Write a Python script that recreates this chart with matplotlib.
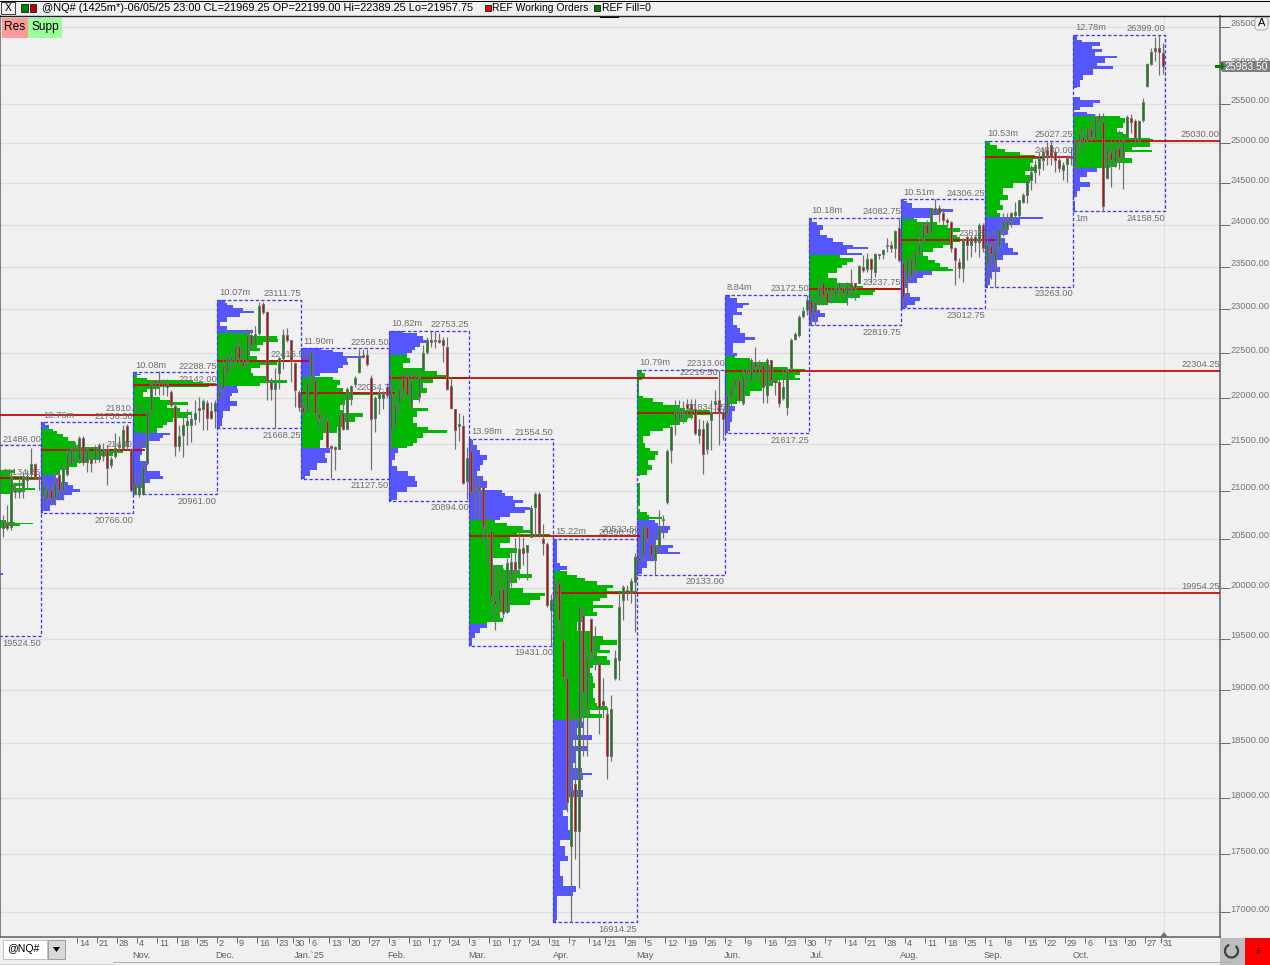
import numpy as np
import matplotlib
matplotlib.use('Agg')
import matplotlib.pyplot as plt
from matplotlib.patches import Rectangle, FancyBboxPatch, Polygon, Arc
from matplotlib.ticker import NullLocator
from matplotlib.transforms import ScaledTranslation

plt.rcParams['font.family'] = ['Liberation Sans', 'DejaVu Sans']

# daily bars, one line per calendar month, Sep 2024 (cut off at the left) to Oct 2025
opens = [
    20615, 20655, 20625, 21010, 20990, 21020, 21110, 21180, 21285, 21140,
    20940, 20920, 21010, 20920, 21165, 21010, 21180, 21290, 21450, 21340, 21560, 21300, 21340, 21340, 21340, 21370, 21450, 21270, 21370, 21470, 21460, 21690, 21440,
    20965, 20965, 20965, 21295, 21865, 22195, 22165, 22165, 22155, 22065, 21915, 21475, 21595, 21705, 21705, 21765, 21890, 21875, 21945, 21855, 21855,
    22005, 22105, 22275, 22415, 22405, 22585, 22405, 22405, 22705, 22615, 22725, 23060, 22970, 22175, 22105, 22275, 22445, 22705, 22645, 22395, 22065,
    21905, 21865, 22245, 22205, 21825, 21775, 21745, 21475, 21470, 21445, 21835, 21665, 22005, 22155, 22285, 22455, 22475, 22225, 21785, 22005, 21995, 22125,
    21655, 21705, 21955, 22255, 22240, 21905, 22260, 22015, 22315, 22515, 22655, 22635, 22655, 22645, 22575, 22130, 21875, 21690, 21695, 21105,
    21425, 21025, 21005, 21035, 20715, 20585, 19880, 19865, 19995, 19765, 20130, 20265, 20200, 20405, 20365, 20520, 20835, 20970, 20500, 20450, 19780,
    19900, 20050, 19485, 19120, 17570, 18125, 17705, 19735, 18845, 19695, 19295, 19255, 18895, 18780, 18380, 19120, 19295, 19880, 19980, 19950, 20060,
    20300, 20320, 20625, 20450, 20290, 20410, 20690, 20885, 21435, 21725, 21755, 21830, 21930, 21930, 21875, 21595, 21660, 21450, 21755, 21930, 21975, 21845,
    21835, 22015, 22145, 22200, 21945, 22310, 22200, 22400, 22370, 22370, 22035, 22425, 22200, 22180, 22000, 21905, 22335, 22660, 22705, 22920, 22990,
    23110, 22972, 23145, 23307, 23203, 23180, 23168, 23249, 23249, 23168, 23249, 23307, 23307, 23493, 23470, 23588, 23435, 23646, 23647, 23752, 23752, 23717, 23955,
    23546, 23347, 23382, 23510, 23652, 23793, 24008, 23888, 24152, 24200, 24140, 24056, 24032, 23722, 23557, 23487, 23853, 23757, 23853, 23793, 23996,
    23527, 23739, 23562, 23727, 23941, 23941, 24037, 24121, 24121, 24278, 24362, 24545, 24643, 24693, 24791, 24915, 24977, 24890, 24791, 24668, 24742, 24841,
    24759, 25019, 25081, 25044, 25182, 25069, 25345, 25270, 24563, 24895, 24771, 24945, 24821, 25081, 25320, 25282, 25019, 25295, 25725, 26009, 26178, 26217, 26152,
]
closes = [
    20697, 20615, 21145, 20990, 21010, 21145, 21155, 21285, 21145, 21120,
    21060, 21010, 20920, 21090, 21010, 21240, 21400, 21450, 21470, 21560, 21300, 21450, 21290, 21470, 21490, 21450, 21240, 21340, 21460, 21490, 21650, 21480, 21010,
    21075, 21075, 21265, 21855, 22155, 22165, 22195, 22135, 22125, 21925, 21475, 21585, 21705, 21745, 21765, 21835, 21870, 21965, 21785, 21785, 21945,
    22075, 22355, 22455, 22455, 22585, 22435, 22355, 22705, 22595, 22715, 23045, 22965, 22185, 22095, 22165, 22445, 22705, 22645, 22415, 22085, 21905,
    21845, 22155, 22515, 21835, 21785, 21765, 21465, 21455, 21445, 21815, 21665, 22105, 22135, 22225, 22445, 22485, 22375, 21775, 22005, 22065, 22060, 22035,
    22055, 21925, 22105, 22105, 22035, 22185, 22235, 22235, 22505, 22645, 22625, 22655, 22625, 22595, 22105, 21885, 21655, 21715, 21085, 21345,
    20985, 21015, 21045, 20625, 20705, 19925, 19845, 19995, 19750, 20250, 20265, 20180, 20400, 20350, 20435, 20815, 20970, 20555, 20460, 19830, 19880,
    20050, 19685, 19130, 17965, 18060, 17705, 19810, 18980, 19325, 19370, 19340, 18835, 18865, 18380, 18825, 19315, 19810, 20010, 19960, 20070, 20315,
    20280, 20635, 20510, 20330, 20440, 20615, 20700, 21420, 21680, 21855, 21855, 21855, 21885, 21865, 21615, 21660, 21390, 21725, 21845, 21970, 21845, 21775,
    22035, 22125, 22200, 21980, 22245, 22280, 22425, 22345, 22345, 22125, 22425, 22200, 22180, 21945, 22125, 22310, 22650, 22715, 22910, 22980, 23105,
    22960, 23087, 23261, 23168, 23087, 23170, 23249, 23307, 23191, 23284, 23307, 23249, 23505, 23458, 23588, 23470, 23647, 23635, 23694, 23740, 23717, 23919, 23576,
    23139, 23605, 23605, 23687, 23769, 24008, 23900, 24200, 24200, 24140, 24056, 24032, 23722, 23581, 23487, 23817, 23757, 23840, 23793, 23996, 23722,
    23762, 23645, 23704, 23941, 24037, 24037, 24145, 24157, 24302, 24362, 24545, 24643, 24730, 24816, 24890, 24853, 24828, 24791, 24693, 24730, 24816, 24816,
    25044, 25131, 25019, 25195, 25081, 25333, 25308, 24222, 24945, 24784, 24945, 24821, 25044, 25333, 25270, 25069, 25282, 25522, 26010, 26165, 26217, 26165, 25983.5,
]
highs = [
    20750, 20855, 21200, 21060, 21155, 21190, 21220, 21460, 21290, 21180,
    21180, 21080, 21080, 21230, 21240, 21290, 21450, 21490, 21520, 21590, 21580, 21470, 21390, 21490, 21510, 21510, 21490, 21370, 21620, 21590, 21700, 21710, 21460,
    21185, 21175, 21295, 21875, 22205, 22205, 22295, 22215, 22215, 22085, 21935, 21705, 21835, 21875, 21855, 21975, 22015, 21985, 21980, 21960, 21980,
    22145, 22475, 22495, 22555, 22625, 22705, 22555, 22775, 22775, 22805, 23085, 23085, 22985, 22225, 22335, 22455, 22775, 22785, 22655, 22405, 22085,
    21995, 22235, 22535, 22235, 21900, 21800, 21855, 21485, 21475, 21835, 22015, 22125, 22145, 22245, 22545, 22545, 22545, 22255, 22025, 22105, 22075, 22165,
    22315, 22105, 22215, 22315, 22315, 22315, 22315, 22315, 22595, 22680, 22753, 22753, 22735, 22680, 22680, 22235, 21880, 21835, 21815, 21465,
    21554, 21145, 21155, 21050, 20715, 20590, 20235, 20235, 20200, 20300, 20400, 20505, 20605, 20520, 20435, 20850, 20985, 20985, 20655, 20465, 19945,
    20100, 20060, 19665, 19170, 18815, 18815, 19830, 19830, 19390, 19705, 19625, 19295, 19120, 18845, 18955, 19390, 19980, 20030, 20030, 20100, 20355,
    20520, 20655, 20635, 20490, 20595, 20800, 20750, 21445, 21705, 21975, 21975, 21970, 21985, 21985, 21985, 21775, 21755, 21755, 21975, 22085, 22313, 21885,
    22055, 22200, 22255, 22255, 22335, 22345, 22445, 22570, 22425, 22390, 22445, 22425, 22235, 22225, 22335, 22345, 22670, 22740, 22935, 23025, 23172,
    23168, 23168, 23365, 23307, 23261, 23261, 23342, 23319, 23307, 23319, 23470, 23307, 23517, 23635, 23658, 23600, 23658, 23647, 23706, 23835, 23800, 23931, 24082,
    23605, 23605, 23616, 23699, 24020, 24020, 24056, 24200, 24306, 24235, 24200, 24080, 24044, 23734, 23605, 23840, 23876, 23876, 23876, 24020, 24020,
    23917, 23786, 23845, 23965, 24145, 24145, 24157, 24278, 24302, 24386, 24570, 24730, 24791, 24890, 24940, 25014, 25027, 24915, 24853, 24766, 24853, 24940,
    25069, 25195, 25207, 25207, 25320, 25358, 25383, 25383, 24982, 25044, 25069, 25169, 25081, 25358, 25371, 25308, 25295, 25572, 26022, 26217, 26362, 26399, 26283,
]
lows = [
    20520, 20595, 20595, 20925, 20925, 20925, 21030, 21145, 21135, 21010,
    20820, 20840, 20850, 20850, 20900, 20900, 21160, 21290, 21290, 21290, 21270, 21200, 21200, 21290, 21310, 21320, 21060, 21240, 21350, 21420, 21430, 21430, 20985,
    20961, 20935, 20955, 21275, 21825, 22035, 22035, 22035, 22025, 21905, 21365, 21425, 21355, 21485, 21515, 21705, 21735, 21645, 21645, 21765, 21675,
    21965, 22075, 22265, 22335, 22335, 22395, 22315, 22370, 22565, 22615, 22705, 22945, 21980, 21980, 21668.25, 22105, 22325, 22625, 22175, 21905, 21855,
    21815, 21855, 22135, 21755, 21635, 21655, 21445, 21130, 21225, 21445, 21655, 21665, 21925, 22125, 22275, 22445, 22355, 21225, 21625, 21825, 21875, 21995,
    21395, 21705, 21845, 21985, 22015, 21870, 22215, 21960, 22305, 22495, 22565, 22555, 22615, 22405, 22085, 21875, 21440, 21535, 21075, 20910,
    20935, 20695, 20715, 20450, 20225, 19715, 19585, 19715, 19700, 19750, 20015, 20080, 20095, 20230, 20080, 20520, 20520, 20520, 20335, 19815, 19431,
    19810, 19555, 19085, 17875, 16914.25, 17460, 17205, 18380, 18380, 19295, 19195, 18585, 18735, 18170, 18335, 19095, 19095, 19685, 19880, 19850, 19565,
    20240, 20270, 20460, 20270, 20135, 20360, 20510, 20860, 21295, 21595, 21755, 21725, 21775, 21775, 21595, 21510, 21180, 21390, 21435, 21830, 21485, 21540,
    21617, 21905, 22035, 21960, 21925, 22110, 22180, 22200, 22170, 21945, 21945, 22180, 22035, 21905, 21980, 21815, 22310, 22650, 22680, 22900, 22935,
    22858, 22820, 23052, 23052, 23052, 23075, 23110, 23134, 23110, 23052, 23134, 23110, 23307, 23435, 23435, 23319, 23377, 23588, 23588, 23670, 23670, 23600, 23552,
    23012.75, 23092, 23347, 23382, 23652, 23769, 23888, 23853, 24140, 24032, 23996, 23972, 23675, 23289, 23370, 23324, 23581, 23616, 23675, 23616, 23675,
    23294, 23352, 23263, 23668, 23858, 23881, 23965, 24097, 24097, 24266, 24266, 24423, 24508, 24606, 24668, 24730, 24730, 24643, 24643, 24545, 24520, 24730,
    24648, 24895, 24895, 25019, 25007, 25044, 25169, 24158.5, 24550, 24453, 24698, 24673, 24428, 25056, 25131, 24957, 25007, 25270, 25712, 25995, 26048, 25866, 25879,
]

# monthly volume profiles: bar index of the first session, high, low, POC
first_bar = [-21, 10, 33, 54, 75, 97, 117, 138, 159, 181, 202, 225, 246, 268, 291]
month_high = [21486.00, 21736.50, 22288.75, 23111.75, 22558.50, 22753.25, 21554.50, 20498.50, 22313.00, 23172.50, 24082.75, 24306.25, 25027.25, 26399.00]
month_low = [19524.50, 20766.00, 20961.00, 21668.25, 21127.50, 20894.00, 19431.00, 16914.25, 20133.00, 21617.25, 22819.75, 23012.75, 23263.00, 24158.50]
month_poc = [21134.25, 21430.50, 22142.00, 22415.50, 22054.75, 22219.50, 20533.50, 19954.25, 21834.75, 22304.25, 23237.75, 23815.75, 24830.00, 25030.00]
poc_end = [9.5, 35.5, 53.5, 76.5, 98, 178.75, 159.25, 304.25, 180.75, 304.25, 224.5, 248.5, 267.5, 304.25]
month_volume = ['', '10.76m', '10.08m', '10.07m', '11.90m', '10.82m', '13.98m', '15.22m', '10.79m', '8.84m', '10.18m', '10.51m', '10.53m', '12.78m']
# value area limits, green inside, blue outside
va_high = [21300, 21667, 22245, 22719, 22232, 22480, 20697, 20167, 22313, 22470, 23637, 24063, 25027, 25347]
va_low = [20400, 21165, 21630, 22135, 21460, 21460, 19650, 18710, 20700, 21945, 23060, 23460, 24100, 24690]

prof_levels = [
    [21486, 21222, 21190, 21158, 21137, 21116, 21084, 21053, 21031, 21010, 20990, 20968, 20697, 20676, 20666, 20656, 20635, 20615, 20154, 20134, 19524.5],
    [21736.5, 21703, 21659, 21637, 21605, 21572, 21530, 21486, 21465, 21443, 21422, 21401, 21369, 21326, 21294, 21251, 21220, 21167, 21135, 21093, 21062, 21020, 20988, 20957, 20905, 20853, 20791, 20766],
    [22288.75, 22270, 22255, 22220, 22199, 22180, 22163, 22143, 22118, 22098, 22070, 22015, 21978, 21960, 21923, 21887, 21850, 21813, 21778, 21741, 21706, 21669, 21615, 21597, 21562, 21526, 21454, 21383, 21312, 21205, 21153, 21128, 21083, 21030, 20967, 20961],
    [23111.75, 23078, 23050, 23012, 22982, 22955, 22917, 22860, 22804, 22765, 22728, 22697, 22662, 22632, 22595, 22557, 22520, 22464, 22426, 22401, 22371, 22334, 22278, 22241, 22204, 22168, 22130, 22104, 22057, 22020, 21965, 21910, 21855, 21783, 21692, 21668.25],
    [22558.5, 22536, 22514, 22470, 22445, 22405, 22370, 22332, 22276, 22246, 22232, 22203, 22148, 22112, 22070, 22059, 22037, 21980, 21925, 21870, 21835, 21796, 21742, 21688, 21616, 21544, 21470, 21454, 21400, 21348, 21295, 21222, 21152, 21127.5],
    [22753.25, 22728, 22690, 22653, 22615, 22575, 22536, 22500, 22480, 22444, 22390, 22332, 22295, 22258, 22236, 22214, 22166, 22110, 22055, 21980, 21925, 21889, 21852, 21796, 21724, 21688, 21652, 21616, 21562, 21508, 21472, 21454, 21400, 21330, 21258, 21205, 21152, 21100, 21045, 20992, 20904, 20894],
    [21554.5, 21544, 21490, 21436, 21383, 21330, 21276, 21205, 21152, 21098, 21028, 21003, 20975, 20940, 20904, 20870, 20835, 20800, 20765, 20725, 20697, 20663, 20628, 20594, 20560, 20546, 20525, 20456, 20405, 20355, 20303, 20235, 20184, 20144, 20100, 20050, 20000, 19950, 19916, 19882, 19832, 19766, 19700, 19667, 19643, 19602, 19553, 19505, 19431],
    [20498.5, 20422, 20252, 20218, 20184, 20167, 20134, 20100, 20067, 20034, 20000, 19974, 19945, 19900, 19866, 19832, 19800, 19766, 19717, 19667, 19618, 19570, 19527, 19482, 19440, 19391, 19359, 19327, 19288, 19246, 19214, 19165, 19133, 19070, 19024, 18977, 18925, 18884, 18847, 18816, 18778, 18738, 18715, 18703, 18644, 18582, 18535, 18479, 18426, 18318, 18272, 18226, 18211, 18165, 18075, 18014, 17894, 17835, 17716, 17672, 17628, 17570, 17481, 17437, 17307, 17220, 17172, 17135, 16934, 16914.25],
    [22313, 22276, 22222, 22203, 22037, 22026, 22000, 21960, 21925, 21890, 21870, 21840, 21815, 21780, 21742, 21706, 21670, 21634, 21580, 21508, 21454, 21418, 21383, 21330, 21276, 21222, 21170, 21160, 21080, 20842, 20807, 20782, 20748, 20725, 20710, 20697, 20663, 20628, 20594, 20560, 20525, 20490, 20440, 20405, 20370, 20347, 20320, 20270, 20200, 20144, 20133],
    [23172.5, 23165, 23128, 23078, 23052, 23013, 22975, 22937, 22823, 22785, 22728, 22683, 22653, 22615, 22500, 22470, 22445, 22405, 22370, 22340, 22325, 22302, 22258, 22220, 22203, 22166, 22130, 22074, 22018, 21962, 21937, 21907, 21852, 21742, 21634, 21617.25],
    [24082.75, 24035, 23995, 23935, 23875, 23835, 23795, 23755, 23735, 23707, 23656, 23637, 23598, 23558, 23519, 23480, 23421, 23362, 23303, 23272, 23250, 23226, 23206, 23168, 23128, 23078, 23052, 22994, 22963, 22917, 22860, 22819.75],
    [24306.25, 24290, 24258, 24195, 24183, 24155, 24115, 24083, 24063, 24035, 23995, 23955, 23915, 23875, 23847, 23795, 23755, 23715, 23675, 23625, 23578, 23539, 23499, 23468, 23452, 23401, 23362, 23303, 23245, 23187, 23140, 23101, 23052, 23012.75],
    [25027.25, 24978, 24928, 24890, 24853, 24828, 24803, 24752, 24702, 24652, 24602, 24540, 24500, 24440, 24358, 24298, 24236, 24175, 24135, 24095, 24063, 23995, 23875, 23835, 23775, 23715, 23675, 23637, 23578, 23492, 23441, 23362, 23284, 23263],
    [26399, 26390, 26327, 26297, 26252, 26207, 26164, 26118, 26092, 26020, 25990, 25952, 25865, 25800, 25715, 25702, 25590, 25547, 25505, 25462, 25420, 25398, 25365, 25347, 25315, 25250, 25186, 25145, 25112, 25070, 25052, 25030, 24957, 24915, 24895, 24810, 24748, 24707, 24686, 24645, 24582, 24520, 24460, 24406, 24338, 24285, 24158.5],
]
# profile width at each level, one more level than sizes
prof_sizes = [
    [60, 98, 93, 108, 123, 93, 108, 98, 118, 108, 95, 60, 89, 98, 116, 103, 89, 70, 86, 70],
    [4, 8, 12, 16, 22, 27, 34, 39, 60, 89, 82, 72, 59, 46, 36, 26, 19, 14, 17, 27, 32, 39, 31, 22, 14, 9, 2],
    [4, 8, 4, 14, 60, 70, 83, 76, 27, 14, 10, 27, 40, 55, 34, 47, 59, 54, 40, 34, 30, 24, 37, 30, 27, 14, 9, 7, 14, 27, 30, 17, 9, 2, 2],
    [8, 10, 16, 26, 37, 23, 10, 3, 10, 36, 33, 60, 61, 46, 40, 43, 33, 40, 76, 60, 43, 34, 36, 50, 70, 43, 20, 21, 15, 13, 20, 13, 6, 5, 3],
    [20, 32, 42, 62, 46, 47, 42, 37, 19, 14, 32, 39, 36, 42, 60, 79, 52, 44, 39, 42, 62, 54, 42, 36, 22, 19, 19, 29, 24, 26, 16, 9, 4],
    [14, 28, 34, 38, 31, 26, 23, 18, 18, 21, 14, 34, 48, 58, 78, 44, 34, 38, 31, 24, 21, 39, 28, 24, 28, 39, 58, 34, 28, 24, 18, 9, 6, 3, 8, 19, 26, 28, 18, 8, 3],
    [3, 4, 8, 11, 18, 14, 11, 8, 14, 18, 11, 33, 36, 44, 54, 46, 61, 56, 41, 31, 26, 38, 54, 61, 48, 81, 41, 31, 48, 41, 24, 34, 51, 63, 48, 41, 54, 76, 71, 61, 41, 31, 34, 18, 18, 11, 6, 3],
    [4, 4, 7, 14, 7, 14, 24, 32, 44, 60, 54, 84, 54, 47, 40, 60, 40, 44, 30, 24, 24, 40, 50, 64, 47, 57, 44, 54, 57, 40, 37, 39, 40, 42, 40, 40, 42, 44, 54, 37, 49, 29, 29, 30, 24, 39, 20, 35, 22, 20, 29, 39, 30, 20, 30, 14, 10, 15, 17, 20, 7, 12, 15, 7, 10, 23, 20, 4, 3],
    [5, 8, 5, 2, 2, 6, 16, 26, 43, 48, 73, 73, 56, 50, 43, 33, 26, 13, 6, 8, 13, 21, 18, 11, 15, 10, 3, 0, 3, 0, 3, 10, 12, 25, 12, 18, 21, 33, 31, 24, 24, 19, 36, 31, 43, 20, 20, 10, 5, 1],
    [3, 5, 12, 24, 18, 12, 17, 8, 12, 15, 20, 30, 20, 8, 12, 10, 25, 42, 48, 62, 80, 75, 70, 75, 53, 48, 37, 25, 18, 12, 5, 10, 7, 5, 2],
    [3, 8, 14, 11, 18, 24, 34, 44, 59, 38, 53, 31, 44, 38, 33, 28, 19, 28, 41, 54, 91, 66, 64, 51, 38, 18, 6, 11, 16, 9, 3],
    [3, 6, 11, 30, 52, 39, 32, 13, 16, 36, 46, 59, 49, 56, 59, 52, 42, 32, 22, 27, 34, 39, 47, 52, 31, 22, 16, 6, 4, 9, 19, 14, 6],
    [5, 12, 20, 35, 50, 60, 48, 45, 50, 40, 47, 45, 28, 18, 23, 15, 18, 12, 15, 58, 35, 22, 13, 20, 23, 28, 33, 18, 12, 15, 7, 5, 3],
    [3, 4, 9, 27, 19, 29, 22, 44, 32, 24, 40, 20, 10, 7, 4, 0, 7, 27, 20, 7, 1, 14, 22, 47, 52, 50, 44, 50, 56, 77, 80, 77, 59, 79, 50, 59, 44, 37, 24, 14, 7, 17, 7, 4, 0, 2],
]

price_ticks = [26500, 26000, 25500, 25000, 24500, 24000, 23500, 23000, 22500, 22000, 21500, 21000, 20500, 20000, 19500, 19000, 18500, 18000, 17500, 17000]
week_bars = [19, 24, 29, 34, 39, 44, 49, 54, 59, 64, 69, 73, 77, 82, 87, 92, 97, 102, 107, 112, 117, 122, 127, 132, 137, 142, 147, 151, 156, 161, 166, 171, 176, 181, 186, 191, 196, 201, 206, 211, 216, 221, 226, 231, 236, 241, 246, 251, 256, 261, 266, 271, 276, 281, 286, 290]
week_labels = ['14', '21', '28', '4', '11', '18', '25', '2', '9', '16', '23', '30', '6', '13', '20', '27', '3', '10', '17', '24', '3', '10', '17', '24', '31', '7', '14', '21', '28', '5', '12', '19', '26', '2', '9', '16', '23', '30', '7', '14', '21', '28', '4', '11', '18', '25', '1', '8', '15', '22', '29', '6', '13', '20', '27', '31']
month_names = ['Nov.', 'Dec.', 'Jan.`25', 'Feb.', 'Mar.', 'Apr.', 'May', 'Jun.', 'Jul.', 'Aug.', 'Sep.', 'Oct.']
month_name_bars = [34, 55, 76, 98, 118, 139, 160, 182, 203, 226, 247, 269]

header_text = '@NQ# (1425m*)-06/05/25 23:00 CL=21969.25 OP=22199.00 Hi=22389.25 Lo=21957.75'

BG = '#F0F0F0'
GRID = '#DEDEDE'
TEXT = '#6E6E6E'
BLUE = '#5656FF'
GREEN = '#00B800'
PX = 0.72  # one pixel in points at dpi 100
FS = 6.7


def note(ax, x, y, text, dx, dy, ha):
    ax.annotate(text, xy=(x, y), xytext=(dx, dy), textcoords='offset pixels', ha=ha, va='center',
                fontsize=FS, color=TEXT, zorder=6, annotation_clip=False)


def draw_profiles(ax):
    for i, levels in enumerate(prof_levels):
        levels = np.array(levels, dtype=float)
        sizes = np.array(prof_sizes[i], dtype=float) / 4
        left = first_bar[i] - 0.5
        mid = (levels[:-1] + levels[1:]) / 2
        colors = [GREEN if va_low[i] <= m <= va_high[i] else BLUE for m in mid]
        ax.barh(levels[:-1], sizes, height=levels[1:] - levels[:-1], left=left, align='edge',
                color=colors, linewidth=0, antialiased=False, zorder=2)

        right = first_bar[i + 1] - 0.5
        hi, lo = month_high[i], month_low[i]
        ax.plot([left, left, right, right, left], [lo, hi, hi, lo, lo], color='#3C3CFF',
                lw=0.95, ls=(0, (2.6, 1.6)), zorder=2.5)

        ax.plot([left, poc_end[i]], [month_poc[i]] * 2, color='#D00000', lw=1.25, zorder=3,
                solid_capstyle='butt')
        note(ax, poc_end[i], month_poc[i], f'{month_poc[i]:.2f}', 0, 6, 'right')
        note(ax, right, hi, f'{hi:.2f}', 0, 6, 'right')
        note(ax, right, lo, f'{lo:.2f}', 0, -7, 'right')
        if month_volume[i]:
            note(ax, left, hi, month_volume[i], 2, 7, 'left')
    # older naked POC coming in from the left edge
    ax.plot([-0.75, 35.5], [21810, 21810], color='#C00000', lw=1.25, zorder=3)
    note(ax, 35.5, 21810, '21810.00', 0, 7, 'right')
    note(ax, first_bar[13] - 0.5, month_low[13], '1m', 2, -7, 'left')


def draw_candles(ax):
    o, c = np.array(opens, dtype=float), np.array(closes, dtype=float)
    x = np.arange(len(o))
    up = c >= o
    ax.vlines(x, lows, highs, color='#707070', lw=PX * 1.2, zorder=4)
    bottom, top = np.minimum(o, c), np.maximum(o, c)
    ax.bar(x, top - bottom, bottom=bottom, width=0.6, color=np.where(up, '#009000', '#D80000'),
           edgecolor='#707070', linewidth=0.72, zorder=5)


def draw_chrome(fig):
    ch = fig.add_axes([0, 0, 1, 1], zorder=10)
    ch.set_xlim(0, 1270)
    ch.set_ylim(965, 0)
    ch.axis('off')
    ch.patch.set_alpha(0)

    def box(x0, y0, x1, y1, fc, ec='none', lw=0):
        ch.add_patch(Rectangle((x0, y0), x1 - x0, y1 - y0, fc=fc, ec=ec, lw=lw))

    def label(x, y, s, color='black', size=7.5, ha='left'):
        ch.text(x, y, s, color=color, fontsize=size, ha=ha, va='center')

    # top strip
    box(0, 0, 1270, 15, BG)
    ch.plot([0, 1270], [0.5, 0.5], color='black', lw=PX)
    ch.plot([0, 1270], [15.5, 15.5], color='#202020', lw=PX * 1.4)
    box(1, 2, 15, 14, BG, '#404040', PX)
    label(4.5, 8, 'X', size=7.5)
    box(21, 4, 28, 12, '#008000', '#303030', PX)
    box(30, 4, 36, 12, '#C00000', '#303030', PX)
    label(42, 8, header_text, size=7.95)
    box(485, 5, 491, 11, '#FF0000', '#303030', PX)
    label(492, 8, 'REF Working Orders')
    box(594, 5, 600, 11, '#008000', '#303030', PX)
    label(602, 8, 'REF Fill=0')
    box(600, 16, 619, 17.5, 'black')

    box(2, 18, 28, 38, '#FF9A9A')
    box(28, 18, 62, 38, '#9AFF9A')
    label(4, 27, 'Res', size=8.6)
    label(31, 27, 'Supp', size=8.6)

    # price side
    ch.add_patch(FancyBboxPatch((1256, 18), 11, 11, boxstyle='round,pad=1,rounding_size=3',
                                fc=BG, ec='#B0B0B0', lw=PX))
    label(1258, 23.5, 'A', size=8)
    box(1222, 61, 1270, 72, '#7F7F7F')
    label(1224, 66.5, '25983.50', color='white', size=7.5)
    box(1215, 65, 1221, 67.5, '#008000')
    ch.add_patch(Polygon([[1221, 61], [1225, 66], [1221, 71]], fc='#008000', ec='none'))

    # bottom strip
    box(3, 940, 47, 959, 'white', '#C0C0C0', PX)
    label(7, 949.5, '@NQ#', size=7.6)
    box(48, 940, 65, 959, '#D8D8D8', '#A0A0A0', PX)
    ch.add_patch(Polygon([[53, 947], [60, 947], [56.5, 952]], fc='black', ec='none'))
    ch.plot([113, 1232], [962, 962], color='#B0B0B0', lw=PX)
    ch.plot([0, 113], [964, 964], color='#D0D0D0', lw=PX)
    box(1220, 938, 1245, 965, '#BDBDBD')
    ch.add_patch(Arc((1231.5, 951), 13, 13, theta1=-50, theta2=250, color='#404040', lw=1.6))
    box(1245, 938, 1270, 965, '#FF0000')
    label(1257.5, 951, '+', size=8, ha='center')
    ch.add_patch(Polygon([[1164, 932], [1168, 937], [1160, 937]], fc='#707070', ec='none'))


def main():
    fig = plt.figure(figsize=(12.70, 9.65), dpi=100, facecolor=BG)
    ax = fig.add_axes([0, 28 / 965, 1220 / 1270, 922 / 965], facecolor=BG)
    ax.set_yscale('log')
    # 1993.7 pixels per unit of log price, 26500 sits at pixel row 27
    ax.set_ylim(26500 * np.exp(-910 / 1993.7), 26500 * np.exp(12 / 1993.7))
    ax.set_xlim(-0.75, 304.25)

    for p in price_ticks:
        ax.axhline(p, color=GRID, lw=1.0, zorder=1)
    ax.axvline(290.25, color=GRID, lw=PX, zorder=1)

    draw_profiles(ax)
    draw_candles(ax)

    ax.yaxis.tick_right()
    ax.yaxis.set_minor_locator(NullLocator())
    ax.set_yticks(price_ticks)
    ax.set_yticklabels([f'{p:.2f}' for p in price_ticks])
    ax.tick_params(axis='y', length=7.2, width=PX, color='#707070', labelcolor='#757575',
                   labelsize=FS, pad=0.5)
    down = ScaledTranslation(0, -1.5 / 100, fig.dpi_scale_trans)
    for t in ax.get_yticklabels():
        t.set_verticalalignment('bottom')
        t.set_transform(t.get_transform() + down)

    ax.set_xticks([b - 0.5 for b in week_bars])
    ax.set_xticklabels(week_labels)
    ax.tick_params(axis='x', length=4.5, width=PX, color='#707070', labelcolor='#606060',
                   labelsize=FS, pad=-3)
    offset = ScaledTranslation(2 / 100, 0, fig.dpi_scale_trans)
    for t in ax.get_xticklabels():
        t.set_horizontalalignment('left')
        t.set_transform(t.get_transform() + offset)

    for name, b in zip(month_names, month_name_bars):
        ax.annotate(name, xy=(b - 0.5, 0), xycoords=ax.get_xaxis_transform(), xytext=(4, -19),
                    textcoords='offset pixels', ha='center', va='center', fontsize=FS,
                    color='#606060', annotation_clip=False)

    ax.spines['top'].set_visible(False)
    for s in ['left', 'right', 'bottom']:
        ax.spines[s].set_color('#606060')
        ax.spines[s].set_linewidth(1.1)

    draw_chrome(fig)
    fig.savefig('out.png', dpi=100, facecolor=BG)


if __name__ == '__main__':
    main()
